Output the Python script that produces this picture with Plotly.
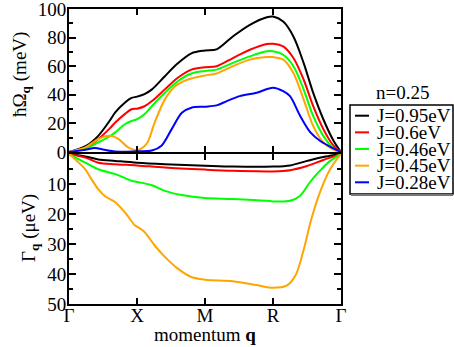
import plotly.graph_objects as go
from plotly.subplots import make_subplots

# ---------------- data ----------------
labels = ["J=0.95eV", "J=0.6eV", "J=0.46eV", "J=0.45eV", "J=0.28eV"]
colors = ["#000000", "#ff0000", "#00ff00", "#ffa500", "#0000ff"]
legend_title = "n=0.25"

q_tick_vals = [0, 1, 2, 3, 4]
q_tick_text = ["Γ", "X", "M", "R", "Γ"]

# phonon energy hbar*Omega_q (meV), top panel
q_om_black = [0, 0.25, 0.43, 0.6, 0.68, 0.82, 0.92, 1.0, 1.11, 1.22, 1.41, 1.6, 1.8, 2.0, 2.17, 2.41, 2.66, 2.91, 3.0, 3.15, 3.3, 3.45, 3.59, 3.74, 3.89, 4.0]
om_black = [0, 4.2, 11.3, 22.0, 27.7, 34.5, 37.8, 38.7, 40.5, 43.8, 53.0, 62.0, 69.0, 71.0, 71.8, 80.8, 88.9, 94.2, 94.7, 91.2, 80.8, 62.3, 41.5, 22.9, 7.9, 0]

q_om_red = [0, 0.25, 0.43, 0.6, 0.68, 0.82, 0.92, 1.0, 1.11, 1.22, 1.41, 1.6, 1.8, 2.0, 2.17, 2.41, 2.66, 2.91, 3.0, 3.15, 3.3, 3.45, 3.59, 3.74, 3.89, 4.0]
om_red = [0, 3.0, 9.0, 16.5, 20.6, 26.5, 29.9, 30.3, 32.0, 35.6, 43.8, 51.9, 57.6, 59.3, 60.0, 65.7, 71.5, 75.5, 75.7, 73.8, 65.7, 50.7, 32.2, 16.0, 4.4, 0]

q_om_green = [0, 0.25, 0.43, 0.6, 0.68, 0.82, 0.92, 1.0, 1.11, 1.22, 1.41, 1.6, 1.8, 2.0, 2.17, 2.41, 2.66, 2.91, 3.0, 3.15, 3.3, 3.45, 3.59, 3.74, 3.89, 4.0]
om_green = [0, 2.5, 6.7, 11.0, 13.7, 19.4, 21.7, 22.9, 26.4, 32.2, 41.5, 49.5, 54.9, 56.7, 57.6, 62.3, 66.9, 70.4, 70.4, 68.0, 60.0, 43.8, 25.2, 11.3, 2.5, 0]

q_om_orange = [0, 0.24, 0.43, 0.6, 0.73, 0.87, 1.0, 1.14, 1.26, 1.41, 1.56, 1.75, 2.0, 2.17, 2.41, 2.66, 2.91, 3.0, 3.15, 3.3, 3.45, 3.59, 3.74, 3.89, 4.0]
om_orange = [0, 3.2, 9.0, 11.3, 9.0, 3.2, 1.2, 5.6, 20.6, 36.8, 46.0, 50.7, 53.5, 54.9, 60.0, 64.6, 66.4, 66.4, 64.6, 55.3, 36.8, 18.3, 6.7, 1.6, 0]

q_om_blue = [0, 0.24, 0.38, 0.52, 0.68, 1.0, 1.22, 1.36, 1.51, 1.66, 1.8, 2.0, 2.17, 2.32, 2.51, 2.76, 3.0, 3.15, 3.25, 3.4, 3.55, 3.69, 3.89, 4.0]
om_blue = [0, 1.6, 2.8, 1.5, 0.3, 0.5, 1.0, 4.4, 16.0, 27.5, 31.0, 31.7, 32.6, 35.6, 39.1, 41.5, 45.0, 42.6, 39.1, 25.2, 13.7, 7.9, 2.5, 0]

# damping Gamma_q (ueV), bottom panel (drawn downward); J=0.28eV stays on the zero line
q_ga_black = [0, 0.24, 0.43, 0.68, 1.0, 1.41, 2.0, 2.41, 3.0, 3.25, 3.5, 3.74, 4.0]
ga_black = [0, 0.8, 1.8, 2.3, 2.9, 3.4, 3.9, 4.2, 4.2, 3.8, 2.3, 1.0, 0]

q_ga_red = [0, 0.24, 0.43, 0.68, 1.0, 1.41, 2.0, 2.41, 2.91, 3.0, 3.25, 3.5, 3.74, 4.0]
ga_red = [0, 1.2, 2.9, 3.4, 3.8, 4.5, 5.2, 5.6, 5.8, 5.8, 5.4, 4.0, 2.0, 0]

q_ga_green = [0, 0.24, 0.43, 0.68, 0.92, 1.0, 1.22, 1.41, 1.66, 2.0, 2.41, 2.91, 3.0, 3.25, 3.4, 3.54, 3.69, 3.84, 4.0]
ga_green = [0, 2.9, 5.1, 6.7, 8.9, 9.3, 10.4, 12.3, 13.7, 14.7, 15.0, 15.6, 15.8, 15.6, 13.9, 9.5, 5.6, 2.3, 0]

q_ga_orange = [0, 0.24, 0.33, 0.43, 0.53, 0.68, 0.82, 0.97, 1.0, 1.11, 1.26, 1.41, 1.6, 1.8, 2.0, 2.41, 2.76, 3.0, 3.2, 3.33, 3.45, 3.56, 3.69, 3.84, 4.0]
ga_orange = [0, 5.1, 8.4, 11.7, 14.1, 16.1, 19.4, 23.8, 24.2, 26.0, 30.5, 34.3, 38.2, 41.0, 41.9, 42.4, 43.7, 44.6, 43.9, 40.5, 32.0, 22.0, 12.8, 5.1, 0]

omega_q = [q_om_black, q_om_red, q_om_green, q_om_orange, q_om_blue]
omega_v = [om_black, om_red, om_green, om_orange, om_blue]
gamma_q = [q_ga_black, q_ga_red, q_ga_green, q_ga_orange]
gamma_v = [ga_black, ga_red, ga_green, ga_orange]

# ---------------- figure ----------------
FONT = "'Liberation Serif', 'Times New Roman', Times, serif"
W, H = 454, 347
ML, MR, MT, MB = 69, 113, 9, 43
PW, PH = W - ML - MR, H - MT - MB

def paper(px, py):
    return (px - ML) / PW, (H - MB - py) / PH

fig = make_subplots(rows=2, cols=1, shared_xaxes=True, vertical_spacing=2.0 / PH,
                    row_heights=[143, 150])

for i in range(len(omega_q)):
    fig.add_trace(go.Scatter(x=omega_q[i], y=omega_v[i], mode="lines",
                             line=dict(color=colors[i], width=2, shape="spline", smoothing=0.9),
                             name=labels[i], showlegend=False), row=1, col=1)
for i in range(len(gamma_q)):
    fig.add_trace(go.Scatter(x=gamma_q[i], y=gamma_v[i], mode="lines",
                             line=dict(color=colors[i], width=2, shape="spline", smoothing=0.9),
                             name=labels[i], showlegend=False), row=2, col=1)

axis_common = dict(showline=True, linecolor="black", linewidth=2, mirror="ticks",
                   ticks="inside", tickcolor="black", tickwidth=1.5, showgrid=False,
                   zeroline=False, automargin=False, ticklabeloverflow="allow",
                   tickfont=dict(family=FONT, size=19, color="black"))

fig.update_xaxes(range=[0, 4], tickvals=q_tick_vals, ticktext=q_tick_text, ticklen=6,
                 ticklabelstandoff=-7, **axis_common)
fig.update_xaxes(showticklabels=False, row=1, col=1)

fig.update_yaxes(range=[0, 100], tickvals=[0, 20, 40, 60, 80, 100], ticklen=7,
                 ticklabelstandoff=-3,
                 minor=dict(tickvals=[10, 30, 50, 70, 90], ticklen=4, ticks="inside",
                            tickcolor="black", tickwidth=1.5),
                 row=1, col=1, **axis_common)
fig.update_yaxes(range=[50, 0], tickvals=[10, 20, 30, 40, 50], ticklen=7,
                 ticklabelstandoff=-3,
                 minor=dict(tickvals=[5, 15, 25, 35, 45], ticklen=4, ticks="inside",
                            tickcolor="black", tickwidth=1.5),
                 row=2, col=1, **axis_common)

annotations = []
x0, y0 = paper(21, 75)
annotations.append(dict(text="ħΩ<sub><b>q</b></sub> (meV)", x=x0, y=y0, xref="paper", yref="paper",
                        textangle=-90, showarrow=False, xanchor="center", yanchor="middle",
                        font=dict(family=FONT, size=19, color="black")))
x0, y0 = paper(30, 228)
annotations.append(dict(text="Γ<sub><b>q</b></sub> (μeV)", x=x0, y=y0, xref="paper", yref="paper",
                        textangle=-90, showarrow=False, xanchor="center", yanchor="middle",
                        font=dict(family=FONT, size=19, color="black")))
x0, y0 = paper(205, 334)
annotations.append(dict(text="momentum <b>q</b>", x=x0, y=y0, xref="paper", yref="paper",
                        showarrow=False, xanchor="center", yanchor="middle",
                        font=dict(family=FONT, size=19, color="black")))

# legend (drawn manually to match compact spacing)
shapes = []
lx0, ly0 = paper(350, 105)
lx1, ly1 = paper(453, 194)
shapes.append(dict(type="rect", xref="paper", yref="paper", x0=lx0, y0=ly1, x1=lx1, y1=ly0,
                   line=dict(color="black", width=1.5), fillcolor="white", layer="above"))
sx, sy = paper(351, 195)
sx2, _ = paper(453, 195)
shapes.append(dict(type="line", xref="paper", yref="paper", x0=sx, y0=sy, x1=sx2, y1=sy,
                   line=dict(color="#777777", width=2), layer="above"))
tx, ty = paper(402, 92)
annotations.append(dict(text=legend_title, x=tx, y=ty, xref="paper", yref="paper",
                        showarrow=False, xanchor="center", yanchor="middle",
                        font=dict(family=FONT, size=19, color="black")))
for i, lab in enumerate(labels):
    cy = 115.7 + 16.65 * i
    a, b = paper(355, cy)
    c, _ = paper(369, cy)
    shapes.append(dict(type="line", xref="paper", yref="paper", x0=a, y0=b, x1=c, y1=b,
                       line=dict(color=colors[i], width=2), layer="above"))
    t, _ = paper(375, cy)
    annotations.append(dict(text=lab, x=t, y=b, xref="paper", yref="paper",
                            showarrow=False, xanchor="left", yanchor="middle",
                            font=dict(family=FONT, size=19, color="black")))

fig.update_layout(width=W, height=H, margin=dict(l=ML, r=MR, t=MT, b=MB, pad=0, autoexpand=False),
                  paper_bgcolor="white", plot_bgcolor="white", showlegend=False,
                  annotations=annotations, shapes=shapes,
                  font=dict(family=FONT, size=19, color="black"))

fig.write_html("out.html", config={"displayModeBar": False},
               post_script="document.body.style.margin='0';document.body.style.overflow='hidden';")
